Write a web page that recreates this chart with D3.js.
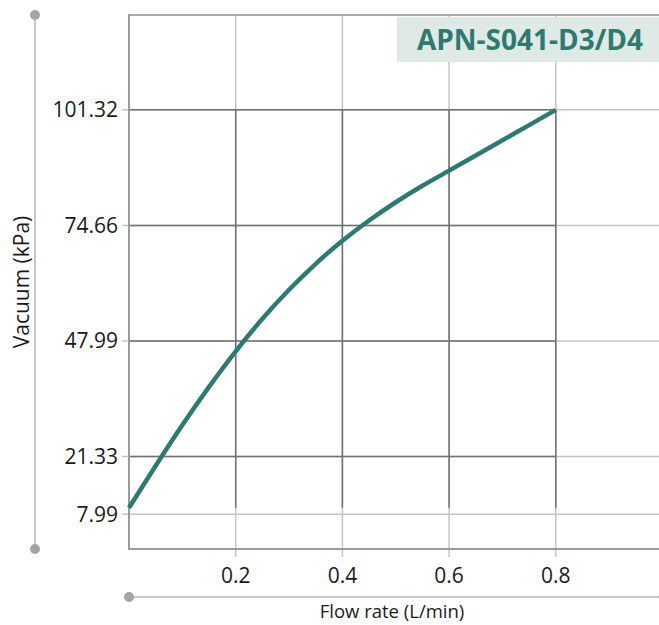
<!DOCTYPE html>
<html>
<head>
<meta charset="utf-8">
<script src="https://cdn.jsdelivr.net/npm/d3@7"></script>
<style>
  html, body { margin: 0; padding: 0; background: #fff; }
  svg { display: block; }
  text { font-family: "Open Sans", "Noto Sans", sans-serif; }
</style>
</head>
<body>
<svg id="chart" width="659" height="625"></svg>
<script>
// ---- data ----
const flowRate = [0, 0.05, 0.1, 0.15, 0.2, 0.25, 0.3, 0.35, 0.4, 0.45, 0.5, 0.55, 0.6, 0.65, 0.7, 0.75, 0.8];
const vacuum   = [9.5, 19.2, 28.6, 37.4, 45.6, 53.1, 59.8, 65.8, 71.1, 75.8, 80.0, 83.8, 87.3, 90.8, 94.3, 97.8, 101.32];
const xTicks = [0.2, 0.4, 0.6, 0.8];
const yTicks = [7.99, 21.33, 47.99, 74.66, 101.32];
const yTickLabels = ["7.99", "21.33", "47.99", "74.66", "101.32"];
const chartTitle = "APN-S041-D3/D4";
const xTitle = "Flow rate (L/min)";
const yTitle = "Vacuum (kPa)";

// ---- layout ----
const svg = d3.select("#chart");
const pLeft = 129, pRight = 662.5, pTop = 15, pBottom = 549;
const x = d3.scaleLinear().domain([0, 1]).range([pLeft, pRight]);
const y = d3.scaleLinear().domain([0, 123.2]).range([pBottom, pTop]);

const light = "#c4c4c4", dark = "#707070";
const dataX = d3.extent(flowRate), dataY = d3.extent(vacuum);

// light full grid
const gLight = svg.append("g");
gLight.selectAll("line.v").data(xTicks).join("line")
  .attr("x1", d => x(d)).attr("x2", d => x(d))
  .attr("y1", pTop).attr("y2", pBottom + 8)
  .attr("stroke", light).attr("stroke-width", 1.5);
gLight.selectAll("line.h").data(yTicks).join("line")
  .attr("x1", pLeft - 7).attr("x2", 659)
  .attr("y1", d => y(d)).attr("y2", d => y(d))
  .attr("stroke", light).attr("stroke-width", 1.5);

// dark grid within data extent
const gDark = svg.append("g");
gDark.selectAll("line.v").data(xTicks.filter(d => d >= dataX[0] && d <= dataX[1])).join("line")
  .attr("x1", d => x(d)).attr("x2", d => x(d))
  .attr("y1", y(dataY[1])).attr("y2", y(dataY[0]))
  .attr("stroke", dark).attr("stroke-width", 1.5);
gDark.selectAll("line.h").data(yTicks.filter(d => d >= dataY[0] && d <= dataY[1])).join("line")
  .attr("x1", x(dataX[0])).attr("x2", x(dataX[1]))
  .attr("y1", d => y(d)).attr("y2", d => y(d))
  .attr("stroke", dark).attr("stroke-width", 1.5);

// frame
svg.append("line").attr("x1", pLeft).attr("x2", 659).attr("y1", pTop).attr("y2", pTop)
  .attr("stroke", "#aaaaaa").attr("stroke-width", 2);
svg.append("line").attr("x1", pLeft).attr("x2", pLeft).attr("y1", pTop - 1).attr("y2", pBottom + 1)
  .attr("stroke", "#9a9a9a").attr("stroke-width", 2);
svg.append("line").attr("x1", pLeft - 1).attr("x2", 659).attr("y1", pBottom).attr("y2", pBottom)
  .attr("stroke", "#9a9a9a").attr("stroke-width", 2);

// title box
svg.append("rect").attr("x", 397).attr("y", 17).attr("width", 262).attr("height", 45)
  .attr("fill", "#dfe9e5");
svg.append("text").attr("x", 530).attr("y", 49.5).attr("text-anchor", "middle")
  .attr("font-size", 28).attr("font-weight", "bold").attr("fill", "#2e7a71")
  .text(chartTitle);

// curve
const line = d3.line().x((d, i) => x(flowRate[i])).y(d => y(d)).curve(d3.curveMonotoneX);
svg.append("path").datum(vacuum).attr("d", line)
  .attr("fill", "none").attr("stroke", "#2e7a72").attr("stroke-width", 4.5)
  .attr("stroke-linecap", "butt");

// y tick labels
svg.append("g").selectAll("text").data(yTicks).join("text")
  .attr("x", 118).attr("y", d => y(d) + 7.5)
  .attr("text-anchor", "end").attr("font-size", 21).attr("fill", "#1a1a1a")
  .text((d, i) => yTickLabels[i]);

// x tick labels
svg.append("g").selectAll("text").data(xTicks).join("text")
  .attr("x", d => x(d)).attr("y", 583)
  .attr("text-anchor", "middle").attr("font-size", 21).attr("fill", "#1a1a1a")
  .text(d => d3.format(".1f")(d));

// decorative axis lines
svg.append("line").attr("x1", 35).attr("x2", 35).attr("y1", 15).attr("y2", 549)
  .attr("stroke", "#c8c8c8").attr("stroke-width", 2);
svg.append("circle").attr("cx", 35).attr("cy", 15).attr("r", 5).attr("fill", "#a5a5a5");
svg.append("circle").attr("cx", 35).attr("cy", 549).attr("r", 5).attr("fill", "#a5a5a5");
svg.append("line").attr("x1", 129).attr("x2", 659).attr("y1", 597).attr("y2", 597)
  .attr("stroke", "#c8c8c8").attr("stroke-width", 2);
svg.append("circle").attr("cx", 129).attr("cy", 597).attr("r", 5).attr("fill", "#a5a5a5");
svg.append("circle").attr("cx", 663.5).attr("cy", 597).attr("r", 5).attr("fill", "#a5a5a5");

// axis titles
svg.append("text").attr("x", 392).attr("y", 618).attr("text-anchor", "middle")
  .attr("font-size", 18.5).attr("fill", "#1a1a1a").text(xTitle);
svg.append("text").attr("transform", "translate(29,282) rotate(-90)")
  .attr("text-anchor", "middle").attr("font-size", 21).attr("fill", "#1a1a1a").text(yTitle);
</script>
</body>
</html>
